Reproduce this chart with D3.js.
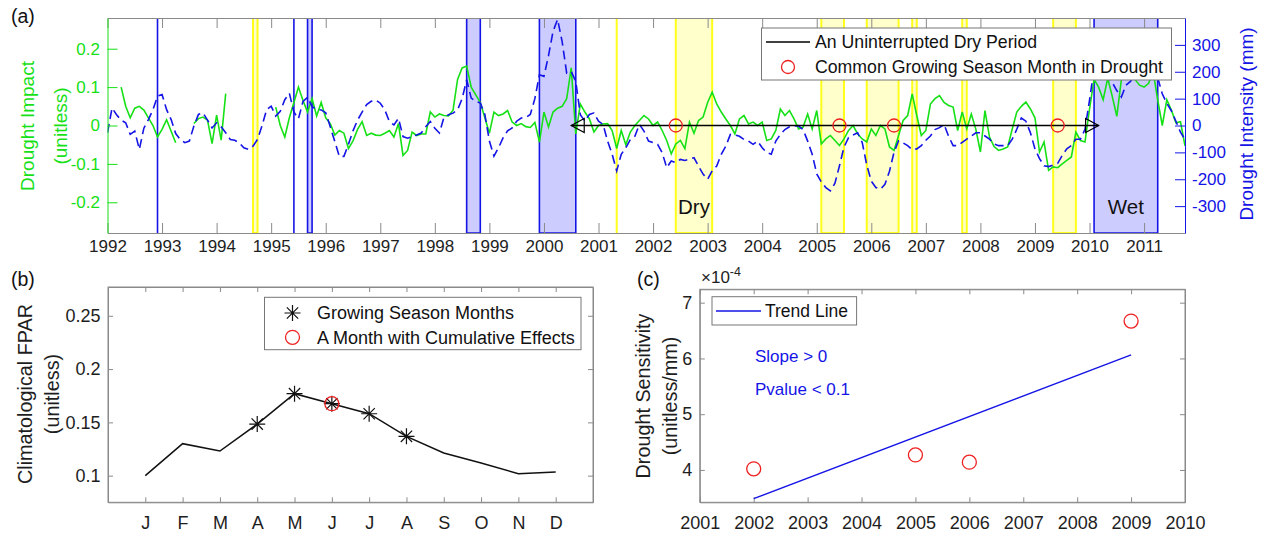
<!DOCTYPE html>
<html>
<head>
<meta charset="utf-8">
<script src="https://cdn.jsdelivr.net/npm/d3@7"></script>
<style>
  body { margin: 0; background: #fff; }
  svg { font-family: "Liberation Sans", Arial, sans-serif; }
</style>
</head>
<body>
<div id="chart"></div>
<script>
// ---------- panel (a): monthly series, index 0 = Jan 1992 ----------
const yearLabels = ["1992","1993","1994","1995","1996","1997","1998","1999","2000","2001",
  "2002","2003","2004","2005","2006","2007","2008","2009","2010","2011"];

// drought impact (unitless), null = no data
const droughtImpact = [
  null, null, null, 0.10, 0.05, 0.02, 0.045, 0.05, 0.04, 0.02, 0.0, -0.03,
  -0.01, 0.015, -0.015, -0.045, null, null, null, 0.005, 0.018, 0.022, 0.014, -0.047,
  0.027, -0.038, 0.083, null, null, null, null, null, null, null, null, null,
  null, 0.048, 0.0, -0.03, 0.02, 0.06, 0.1, 0.065, 0.035, 0.07, 0.025, 0.06,
  0.02, 0.005, -0.025, -0.013, -0.02, -0.06, -0.04, -0.01, 0.01, -0.026, -0.02, -0.025,
  -0.026, -0.02, -0.013, -0.03, 0.005, -0.078, -0.065, -0.017, -0.026, -0.022, -0.022, 0.035,
  0.022, 0.03, 0.026, 0.025, 0.04, 0.12, 0.15, 0.155, 0.1, 0.08, 0.06, 0.02,
  -0.02, 0.035, 0.026, 0.03, 0.039, 0.009, 0.0, 0.005, -0.003, -0.005, 0.008, -0.043,
  0.035, -0.004, 0.035, 0.045, 0.05, 0.07, 0.15, -0.022, 0.056, 0.035, 0.017, -0.017,
  0.0, 0.004, 0.005, -0.013, -0.06, -0.013, -0.05, -0.017, 0.0, 0.013, 0.026, 0.017,
  0.0, 0.009, -0.013, -0.039, -0.074, -0.048, -0.039, -0.06, 0.009, -0.02, 0.013, 0.022,
  0.06, 0.087, 0.056, 0.035, 0.017, 0.0, -0.022, 0.017, 0.026, 0.004, 0.009, 0.0,
  0.009, -0.039, -0.035, -0.013, 0.043, 0.026, 0.039, 0.017, -0.009, -0.004, 0.03, -0.009,
  0.039, -0.048, -0.035, -0.026, -0.039, -0.052, -0.035, -0.013, 0.0, -0.022, -0.035, -0.043,
  -0.009, -0.026, 0.0, -0.009, -0.056, -0.065, -0.026, 0.013, 0.026, 0.082, 0.026, -0.026,
  -0.013, 0.056, 0.07, 0.078, 0.06, 0.052, 0.048, -0.013, 0.035, -0.009, 0.03, -0.01,
  -0.069, 0.039, -0.03, -0.055, -0.065, -0.061, -0.056, -0.009, 0.035, 0.05, 0.061, 0.043,
  0.02, -0.069, -0.043, -0.117, -0.108, -0.11, -0.1, -0.091, -0.082, -0.017, -0.039, -0.043,
  0.043, 0.12, 0.1, 0.067, 0.123, 0.076, 0.024, 0.119, 0.14, 0.16, 0.12, 0.105,
  0.1, 0.11, 0.14, 0.067, 0.0, 0.067, 0.04, 0.007, 0.01, -0.053
];

// drought intensity (mm)
const droughtIntensity = [
  -27, 65, 40, 20, 10, -33, -21, -89, -10, 22, 59, 109,
  115, 59, 22, -30, -52, -64, -58, -2, 41, 47, 20, -9,
  10, -5, -27, -52, -55, -65, -83, -89, -77, -52, 0, 59,
  72, 35, 53, 96, 120, 50, 25, 90, 105, 70, 60, 58,
  47, -5, -60, -115, -115, -70, -20, 20, 50, 78, 90, 95,
  83, 58, 15, 2, 27, -41, -47, -41, -35, -28, -5, 15,
  -10, -28, 30, 40, 46, 58, 100, 170, 102, 90, 84, 41,
  -58, -114, -83, -46, -20, -9, 16, 28, 30, 41, 100, 189,
  183, 260, 350, 395, 312, 195, 201, 164, 40, 16, 41, 47,
  16, 4, -58, -107, -169, -107, -83, -52, -40, 4, -21, -58,
  -64, -70, -101, -157, -132, -138, -126, -130, -125, -120, -151, -181,
  -200, -169, -151, -107, -77, -33, -35, -40, -52, -58, -70, -58,
  -83, -101, -107, -58, -33, -15, -5, -2, -2, -15, -58, -107,
  -180, -210, -231, -243, -215, -150, -80, -45, -35, -27, -63, -147,
  -207, -231, -237, -219, -170, -100, -57, -65, -75, -90, -87, -75,
  -55, -39, -15, -8, 4, -40, -75, -75, -63, -51, -39, -27,
  -27, -39, -51, -69, -75, -75, -75, -51, -14, 28, 16, -27,
  -87, -123, -150, -153, -147, -141, -111, -87, -75, -51, -51, -14,
  94, 214, 230, 200, 180, 160, 130, 106, 150, 164, 190, 200,
  210, 205, 201, 178, 118, 82, 55, 16, -25, -52
];

// shaded periods (month index, start..end)
const wetStart = [11, 41, 44, 79, 95, 217];
const wetEnd   = [11, 41, 45, 82, 103, 231];
const dryStart = [32, 112, 125, 157, 167, 177, 188, 208];
const dryEnd   = [33, 112, 133, 162, 174, 178, 189, 213];
const droughtMonths = [125, 161, 173, 209];
const dryPeriod = [102, 218];

const impactTicks = [-0.2, -0.1, 0, 0.1, 0.2];
const impactTickLabels = ["-0.2", "-0.1", "0", "0.1", "0.2"];
const intensityTicks = [-300, -200, -100, 0, 100, 200, 300];
const intensityTickLabels = ["-300", "-200", "-100", "0", "100", "200", "300"];

// ---------- panel (b) ----------
const monthLabels = ["J","F","M","A","M","J","J","A","S","O","N","D"];
const fpar = [0.1, 0.130, 0.1231, 0.1484, 0.1769, 0.1675, 0.1581, 0.1369, 0.1213, 0.1119, 0.1019, 0.1034];
const growingMonths = [4, 5, 6, 7, 8];
const cumulativeMonths = [6];
const fparTicks = [0.1, 0.15, 0.2, 0.25];
const fparTickLabels = ["0.1", "0.15", "0.2", "0.25"];

// ---------- panel (c) ----------
const sensYears = [2002, 2005, 2006, 2009];
const sensitivity = [4.02, 4.27, 4.14, 6.67];   // x 1e-4
const sensYearTicks = [2001, 2002, 2003, 2004, 2005, 2006, 2007, 2008, 2009, 2010];
const sensTicks = [4, 5, 6, 7];

// ---------- set-up ----------
const W = 1262, H = 534;
const GREEN = "#16e016", BLUE = "#1414e6", GRAY = "#8a8a8a", TXT = "#1e1e1e";

const svg = d3.select("#chart").append("svg")
  .attr("width", W).attr("height", H);
const defs = svg.append("defs");

function styleAxis(g, lineColor, textColor, size) {
  g.attr("font-size", size).attr("font-family", null);
  g.selectAll(".domain").attr("stroke", lineColor).attr("stroke-width", 1);
  g.selectAll(".tick line").attr("stroke", lineColor);
  g.selectAll(".tick text").attr("fill", textColor);
}

function vLabel(x, y, text, color, size) {
  svg.append("text")
    .attr("transform", `translate(${x},${y}) rotate(-90)`)
    .attr("text-anchor", "middle").attr("dy", "0.35em")
    .attr("font-size", size).attr("fill", color).text(text);
}

// ================= panel (a) =================
const A = { left: 107.5, right: 1185, top: 18, bottom: 233 };
const months = d3.range(droughtImpact.length);
const x = d3.scaleLinear().domain([0, 237]).range([A.left, A.right]);
const yL = d3.scaleLinear().domain([-0.28, 0.28]).range([A.bottom, A.top]);
const yR = d3.scaleLinear().domain([-400, 400]).range([A.bottom, A.top]);

defs.append("clipPath").attr("id", "clipA").append("rect")
  .attr("x", A.left).attr("y", A.top)
  .attr("width", A.right - A.left).attr("height", A.bottom - A.top);

const plotA = svg.append("g").attr("clip-path", "url(#clipA)");

const boxPath = (s, e) => `M${x(s)},${A.top}H${x(e)}V${A.bottom}H${x(s)}Z`;

plotA.selectAll(".dry").data(d3.zip(dryStart, dryEnd)).join("path")
  .attr("class", "dry")
  .attr("d", d => boxPath(d[0], d[1]))
  .attr("fill", "#ffff00").attr("fill-opacity", 0.2)
  .attr("stroke", "#ffff1a").attr("stroke-width", 2);

plotA.selectAll(".wet").data(d3.zip(wetStart, wetEnd)).join("path")
  .attr("class", "wet")
  .attr("d", d => boxPath(d[0], d[1]))
  .attr("fill", "#0000ff").attr("fill-opacity", 0.2)
  .attr("stroke", BLUE).attr("stroke-width", 1.6);

const lineImpact = d3.line().defined(d => d[1] != null)
  .x(d => x(d[0])).y(d => yL(d[1]));
const lineIntensity = d3.line().defined(d => d[1] != null)
  .x(d => x(d[0])).y(d => yR(d[1]));

plotA.append("path")
  .datum(months.map(i => [i, droughtImpact[i]]))
  .attr("d", lineImpact)
  .attr("fill", "none").attr("stroke", GREEN).attr("stroke-width", 1.6);

plotA.append("path")
  .datum(months.map(i => [i, droughtIntensity[i]]))
  .attr("d", lineIntensity)
  .attr("fill", "none").attr("stroke", BLUE).attr("stroke-width", 1.6)
  .attr("stroke-dasharray", "9,5");

// uninterrupted dry period arrow
const y0 = yL(0);
plotA.append("line")
  .attr("x1", x(dryPeriod[0])).attr("x2", x(dryPeriod[1]))
  .attr("y1", y0).attr("y2", y0)
  .attr("stroke", "#000").attr("stroke-width", 1.5);
const xa = x(dryPeriod[0]), xb = x(dryPeriod[1]);
plotA.append("path")
  .attr("d", `M${xa},${y0}L${xa + 13},${y0 - 7}L${xa + 13},${y0 + 7}Z`)
  .attr("fill", "none").attr("stroke", "#000").attr("stroke-width", 1.2);
plotA.append("path")
  .attr("d", `M${xb},${y0}L${xb - 13},${y0 - 7}L${xb - 13},${y0 + 7}Z`)
  .attr("fill", "none").attr("stroke", "#000").attr("stroke-width", 1.2);

plotA.selectAll(".dm").data(droughtMonths).join("circle")
  .attr("cx", d => x(d)).attr("cy", y0).attr("r", 6.5)
  .attr("fill", "none").attr("stroke", "#ee2020").attr("stroke-width", 1.3);

svg.append("text").attr("x", x((dryStart[2] + dryEnd[2]) / 2)).attr("y", 214)
  .attr("text-anchor", "middle").attr("font-size", 20.5).attr("fill", "#111").text("Dry");
svg.append("text").attr("x", x((wetStart[5] + wetEnd[5]) / 2)).attr("y", 214)
  .attr("text-anchor", "middle").attr("font-size", 20.5).attr("fill", "#111").text("Wet");

// axes (a)
const yearTicks = yearLabels.map((d, i) => i * 12);
const gxA = svg.append("g").attr("transform", `translate(0,${A.bottom})`)
  .call(d3.axisBottom(x).tickValues(yearTicks).tickFormat((d, i) => yearLabels[i])
    .tickSizeInner(-10).tickSizeOuter(0).tickPadding(7));
styleAxis(gxA, GRAY, TXT, 17);
const gxTop = svg.append("g").attr("transform", `translate(0,${A.top})`)
  .call(d3.axisTop(x).tickValues(yearTicks).tickFormat("").tickSizeInner(-10).tickSizeOuter(0));
styleAxis(gxTop, GRAY, TXT, 17);

const gyL = svg.append("g").attr("transform", `translate(${A.left},0)`)
  .call(d3.axisLeft(yL).tickValues(impactTicks).tickFormat((d, i) => impactTickLabels[i])
    .tickSizeInner(-10).tickSizeOuter(0).tickPadding(7.5));
styleAxis(gyL, GREEN, GREEN, 17);
const gyR = svg.append("g").attr("transform", `translate(${A.right},0)`)
  .call(d3.axisRight(yR).tickValues(intensityTicks).tickFormat((d, i) => intensityTickLabels[i])
    .tickSizeInner(-10).tickSizeOuter(0).tickPadding(7));
styleAxis(gyR, BLUE, BLUE, 17);

vLabel(27, 126, "Drought Impact", GREEN, 19);
vLabel(60, 126, "(unitless)", GREEN, 19);
vLabel(1246, 124, "Drought Intensity (mm)", BLUE, 19);
svg.append("text").attr("x", 11).attr("y", 23).attr("font-size", 19.5).attr("fill", "#111").text("(a)");

// legend (a)
const legA = svg.append("g");
legA.append("rect").attr("x", 761.5).attr("y", 28).attr("width", 410).attr("height", 52)
  .attr("fill", "#fff").attr("stroke", "#777").attr("stroke-width", 1);
legA.append("line").attr("x1", 766).attr("x2", 810).attr("y1", 42).attr("y2", 42)
  .attr("stroke", "#000").attr("stroke-width", 1.5);
legA.append("circle").attr("cx", 788).attr("cy", 67).attr("r", 6.5)
  .attr("fill", "none").attr("stroke", "#ee2020").attr("stroke-width", 1.3);
legA.append("text").attr("x", 815).attr("y", 42).attr("dy", "0.35em")
  .attr("font-size", 17.7).attr("fill", "#111").text("An Uninterrupted Dry Period");
legA.append("text").attr("x", 815).attr("y", 67).attr("dy", "0.35em")
  .attr("font-size", 17.7).attr("fill", "#111").text("Common Growing Season Month in Drought");

// ================= panel (b) =================
const B = { left: 108, right: 593, top: 287, bottom: 502.3 };
const xB = d3.scaleLinear().domain([0, 13]).range([B.left, B.right]);
const yB = d3.scaleLinear().domain([0.075, 0.277]).range([B.bottom, B.top]);
const monthIdx = monthLabels.map((d, i) => i + 1);

svg.append("rect").attr("x", B.left).attr("y", B.top)
  .attr("width", B.right - B.left).attr("height", B.bottom - B.top)
  .attr("fill", "none").attr("stroke", GRAY);

const gxB = svg.append("g").attr("transform", `translate(0,${B.bottom})`)
  .call(d3.axisBottom(xB).tickValues(monthIdx).tickFormat((d, i) => monthLabels[i])
    .tickSizeInner(-5).tickSizeOuter(0).tickPadding(14));
styleAxis(gxB, GRAY, TXT, 18);
const gxBt = svg.append("g").attr("transform", `translate(0,${B.top})`)
  .call(d3.axisTop(xB).tickValues(monthIdx).tickFormat("").tickSizeInner(-5).tickSizeOuter(0));
styleAxis(gxBt, GRAY, TXT, 18);
const gyB = svg.append("g").attr("transform", `translate(${B.left},0)`)
  .call(d3.axisLeft(yB).tickValues(fparTicks).tickFormat((d, i) => fparTickLabels[i])
    .tickSizeInner(-5).tickSizeOuter(0).tickPadding(7.5));
styleAxis(gyB, GRAY, TXT, 18);
const gyBr = svg.append("g").attr("transform", `translate(${B.right},0)`)
  .call(d3.axisRight(yB).tickValues(fparTicks).tickFormat("").tickSizeInner(-5).tickSizeOuter(0));
styleAxis(gyBr, GRAY, TXT, 18);

svg.append("path")
  .datum(fpar)
  .attr("d", d3.line().x((d, i) => xB(i + 1)).y(d => yB(d)))
  .attr("fill", "none").attr("stroke", "#111").attr("stroke-width", 1.5);

function asterisk(g, cx, cy, s) {
  const d = s * 0.707;
  g.append("path")
    .attr("d", `M${cx - s},${cy}H${cx + s}M${cx},${cy - s}V${cy + s}` +
      `M${cx - d},${cy - d}L${cx + d},${cy + d}M${cx - d},${cy + d}L${cx + d},${cy - d}`)
    .attr("stroke", "#111").attr("stroke-width", 1.2).attr("fill", "none");
}
growingMonths.forEach(m => asterisk(svg, xB(m), yB(fpar[m - 1]), 8));
svg.selectAll(".cum").data(cumulativeMonths).join("circle")
  .attr("cx", d => xB(d)).attr("cy", d => yB(fpar[d - 1])).attr("r", 7)
  .attr("fill", "none").attr("stroke", "#ee2020").attr("stroke-width", 1.3);

vLabel(25, 394, "Climatological FPAR", TXT, 19.8);
vLabel(52, 394, "(unitless)", TXT, 19.8);
svg.append("text").attr("x", 11).attr("y", 285.5).attr("font-size", 19.5).attr("fill", "#111").text("(b)");

const legB = svg.append("g");
legB.append("rect").attr("x", 264.5).attr("y", 297.3).attr("width", 316.5).attr("height", 52.4)
  .attr("fill", "#fff").attr("stroke", "#777");
asterisk(legB, 292.5, 313, 8);
legB.append("circle").attr("cx", 292.5).attr("cy", 337.3).attr("r", 7)
  .attr("fill", "none").attr("stroke", "#ee2020").attr("stroke-width", 1.3);
legB.append("text").attr("x", 317).attr("y", 313).attr("dy", "0.35em")
  .attr("font-size", 18).attr("fill", "#111").text("Growing Season Months");
legB.append("text").attr("x", 317).attr("y", 337.3).attr("dy", "0.35em")
  .attr("font-size", 18).attr("fill", "#111").text("A Month with Cumulative Effects");

// ================= panel (c) =================
const C = { left: 699.8, right: 1185, top: 289.3, bottom: 502.3 };
const xC = d3.scaleLinear().domain([2001, 2010]).range([C.left, C.right]);
const yC = d3.scaleLinear().domain([3.42, 7.24]).range([C.bottom, C.top]);

svg.append("rect").attr("x", C.left).attr("y", C.top)
  .attr("width", C.right - C.left).attr("height", C.bottom - C.top)
  .attr("fill", "none").attr("stroke", GRAY);

const gxC = svg.append("g").attr("transform", `translate(0,${C.bottom})`)
  .call(d3.axisBottom(xC).tickValues(sensYearTicks).tickFormat(d3.format("d"))
    .tickSizeInner(-5).tickSizeOuter(0).tickPadding(14));
styleAxis(gxC, GRAY, TXT, 18);
const gxCt = svg.append("g").attr("transform", `translate(0,${C.top})`)
  .call(d3.axisTop(xC).tickValues(sensYearTicks).tickFormat("").tickSizeInner(-5).tickSizeOuter(0));
styleAxis(gxCt, GRAY, TXT, 18);
const gyC = svg.append("g").attr("transform", `translate(${C.left},0)`)
  .call(d3.axisLeft(yC).tickValues(sensTicks).tickFormat(d3.format("d"))
    .tickSizeInner(-5).tickSizeOuter(0).tickPadding(7.5));
styleAxis(gyC, GRAY, TXT, 18);
const gyCr = svg.append("g").attr("transform", `translate(${C.right},0)`)
  .call(d3.axisRight(yC).tickValues(sensTicks).tickFormat("").tickSizeInner(-5).tickSizeOuter(0));
styleAxis(gyCr, GRAY, TXT, 18);

// least-squares trend line through the sensitivity points
const mx = d3.mean(sensYears), my = d3.mean(sensitivity);
const slope = d3.sum(sensYears, (v, i) => (v - mx) * (sensitivity[i] - my)) /
  d3.sum(sensYears, v => (v - mx) ** 2);
const trendX = d3.extent(sensYears);
svg.append("path")
  .datum(trendX.map(v => [v, my + slope * (v - mx)]))
  .attr("d", d3.line().x(d => xC(d[0])).y(d => yC(d[1])))
  .attr("stroke", BLUE).attr("stroke-width", 1.5).attr("fill", "none");

svg.selectAll(".sens").data(sensYears).join("circle")
  .attr("cx", d => xC(d)).attr("cy", (d, i) => yC(sensitivity[i])).attr("r", 7)
  .attr("fill", "none").attr("stroke", "#ee2020").attr("stroke-width", 1.3);

svg.append("text").attr("x", 755).attr("y", 356).attr("dy", "0.35em")
  .attr("font-size", 17).attr("fill", BLUE).text("Slope > 0");
svg.append("text").attr("x", 755).attr("y", 389.3).attr("dy", "0.35em")
  .attr("font-size", 17).attr("fill", BLUE).text("Pvalue < 0.1");

const expo = svg.append("text").attr("x", 701).attr("y", 283).attr("font-size", 17).attr("fill", TXT);
expo.append("tspan").text("\u00d710");
expo.append("tspan").attr("dy", -7).attr("font-size", 12.5).text("-4");

vLabel(643, 396, "Drought Sensitivity", TXT, 19.8);
vLabel(670, 396, "(unitless/mm)", TXT, 19.8);
svg.append("text").attr("x", 637).attr("y", 285.5).attr("font-size", 19.5).attr("fill", "#111").text("(c)");

const legC = svg.append("g");
legC.append("rect").attr("x", 712).attr("y", 296.7).attr("width", 144.6).attr("height", 28.3)
  .attr("fill", "#fff").attr("stroke", "#777");
legC.append("line").attr("x1", 716).attr("x2", 761).attr("y1", 311).attr("y2", 311)
  .attr("stroke", BLUE).attr("stroke-width", 1.5);
legC.append("text").attr("x", 765).attr("y", 311).attr("dy", "0.35em")
  .attr("font-size", 17.5).attr("fill", "#111").text("Trend Line");
</script>
</body>
</html>
